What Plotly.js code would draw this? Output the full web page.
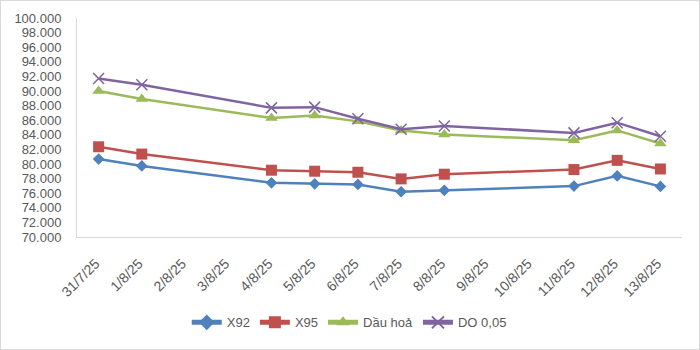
<!DOCTYPE html>
<html>
<head>
<meta charset="utf-8">
<script src="https://cdn.plot.ly/plotly-3.0.1.min.js"></script>
<style>
  html, body { margin: 0; padding: 0; background: #fff; }
  #wrap { position: relative; width: 700px; height: 350px; }
  #chart { width: 700px; height: 350px; }
  #frame { position: absolute; left: 0; top: 0; width: 698px; height: 348px; border: 1px solid #d9d9d9; pointer-events: none; }
</style>
</head>
<body>
<div id="wrap"><div id="chart"></div><div id="frame"></div></div>
<script>
// All category labels on the x axis
const categories = ["31/7/25","1/8/25","2/8/25","3/8/25","4/8/25","5/8/25","6/8/25","7/8/25","8/8/25","9/8/25","10/8/25","11/8/25","12/8/25","13/8/25"];
// Dates that have data
const dates = ["31/7/25","1/8/25","4/8/25","5/8/25","6/8/25","7/8/25","8/8/25","11/8/25","12/8/25","13/8/25"];
const x92    = [80.68, 79.73, 77.42, 77.29, 77.20, 76.20, 76.39, 76.97, 78.37, 76.93];
const x95    = [82.36, 81.36, 79.15, 79.01, 78.87, 77.96, 78.60, 79.24, 80.50, 79.32];
const dauHoa = [90.00, 88.90, 86.30, 86.65, 85.84, 84.60, 84.03, 83.26, 84.60, 82.81];
const do005  = [91.72, 90.86, 87.69, 87.79, 86.20, 84.75, 85.21, 84.26, 85.66, 83.80];
const seriesNames = ["X92", "X95", "Dầu hoả", "DO 0,05"];

const colors = ["#4F81BD", "#C0504D", "#9BBB59", "#8064A2"];
const symbols = ["diamond", "square", "triangle-up", "x-thin"];
const sizes = [9, 11, 11, 11];
const values = [x92, x95, dauHoa, do005];

const traces = values.map((v, i) => ({
  type: "scatter",
  mode: "lines+markers",
  name: seriesNames[i],
  x: dates,
  y: v,
  line: { color: colors[i], width: 2.5 },
  marker: {
    symbol: symbols[i],
    size: sizes[i],
    color: colors[i],
    line: { color: colors[i], width: i === 3 ? 1.5 : 0 }
  }
}));

const font = { family: "Liberation Sans, Arial, sans-serif", size: 13, color: "#595959" };
const xfont = { family: "Liberation Sans, Arial, sans-serif", size: 14, color: "#595959" };

const layout = {
  width: 700, height: 350,
  margin: { l: 77, r: 18, t: 18, b: 110 },
  paper_bgcolor: "#fff", plot_bgcolor: "#fff",
  separators: ".,",
  font: font,
  showlegend: true,
  legend: {
    orientation: "h", x: 0.45, xanchor: "center", y: -0.39, yanchor: "middle",
    font: font, traceorder: "normal", itemsizing: "constant"
  },
  xaxis: {
    type: "category",
    categoryorder: "array",
    categoryarray: categories,
    range: [-0.5, categories.length - 0.5],
    tickangle: -45,
    ticklabelshift: -3,
    ticklabelstandoff: 12,
    showgrid: false,
    showline: true, linecolor: "#d9d9d9", linewidth: 1,
    ticks: "", tickfont: xfont, zeroline: false
  },
  yaxis: {
    range: [70, 100],
    dtick: 2, tick0: 70,
    tickformat: ".3f",
    ticklabelstandoff: 12,
    showgrid: false,
    showline: true, linecolor: "#d9d9d9", linewidth: 1,
    ticks: "", tickfont: font, zeroline: false
  }
};

Plotly.newPlot("chart", traces, layout, { staticPlot: true, displayModeBar: false });
</script>
</body>
</html>
